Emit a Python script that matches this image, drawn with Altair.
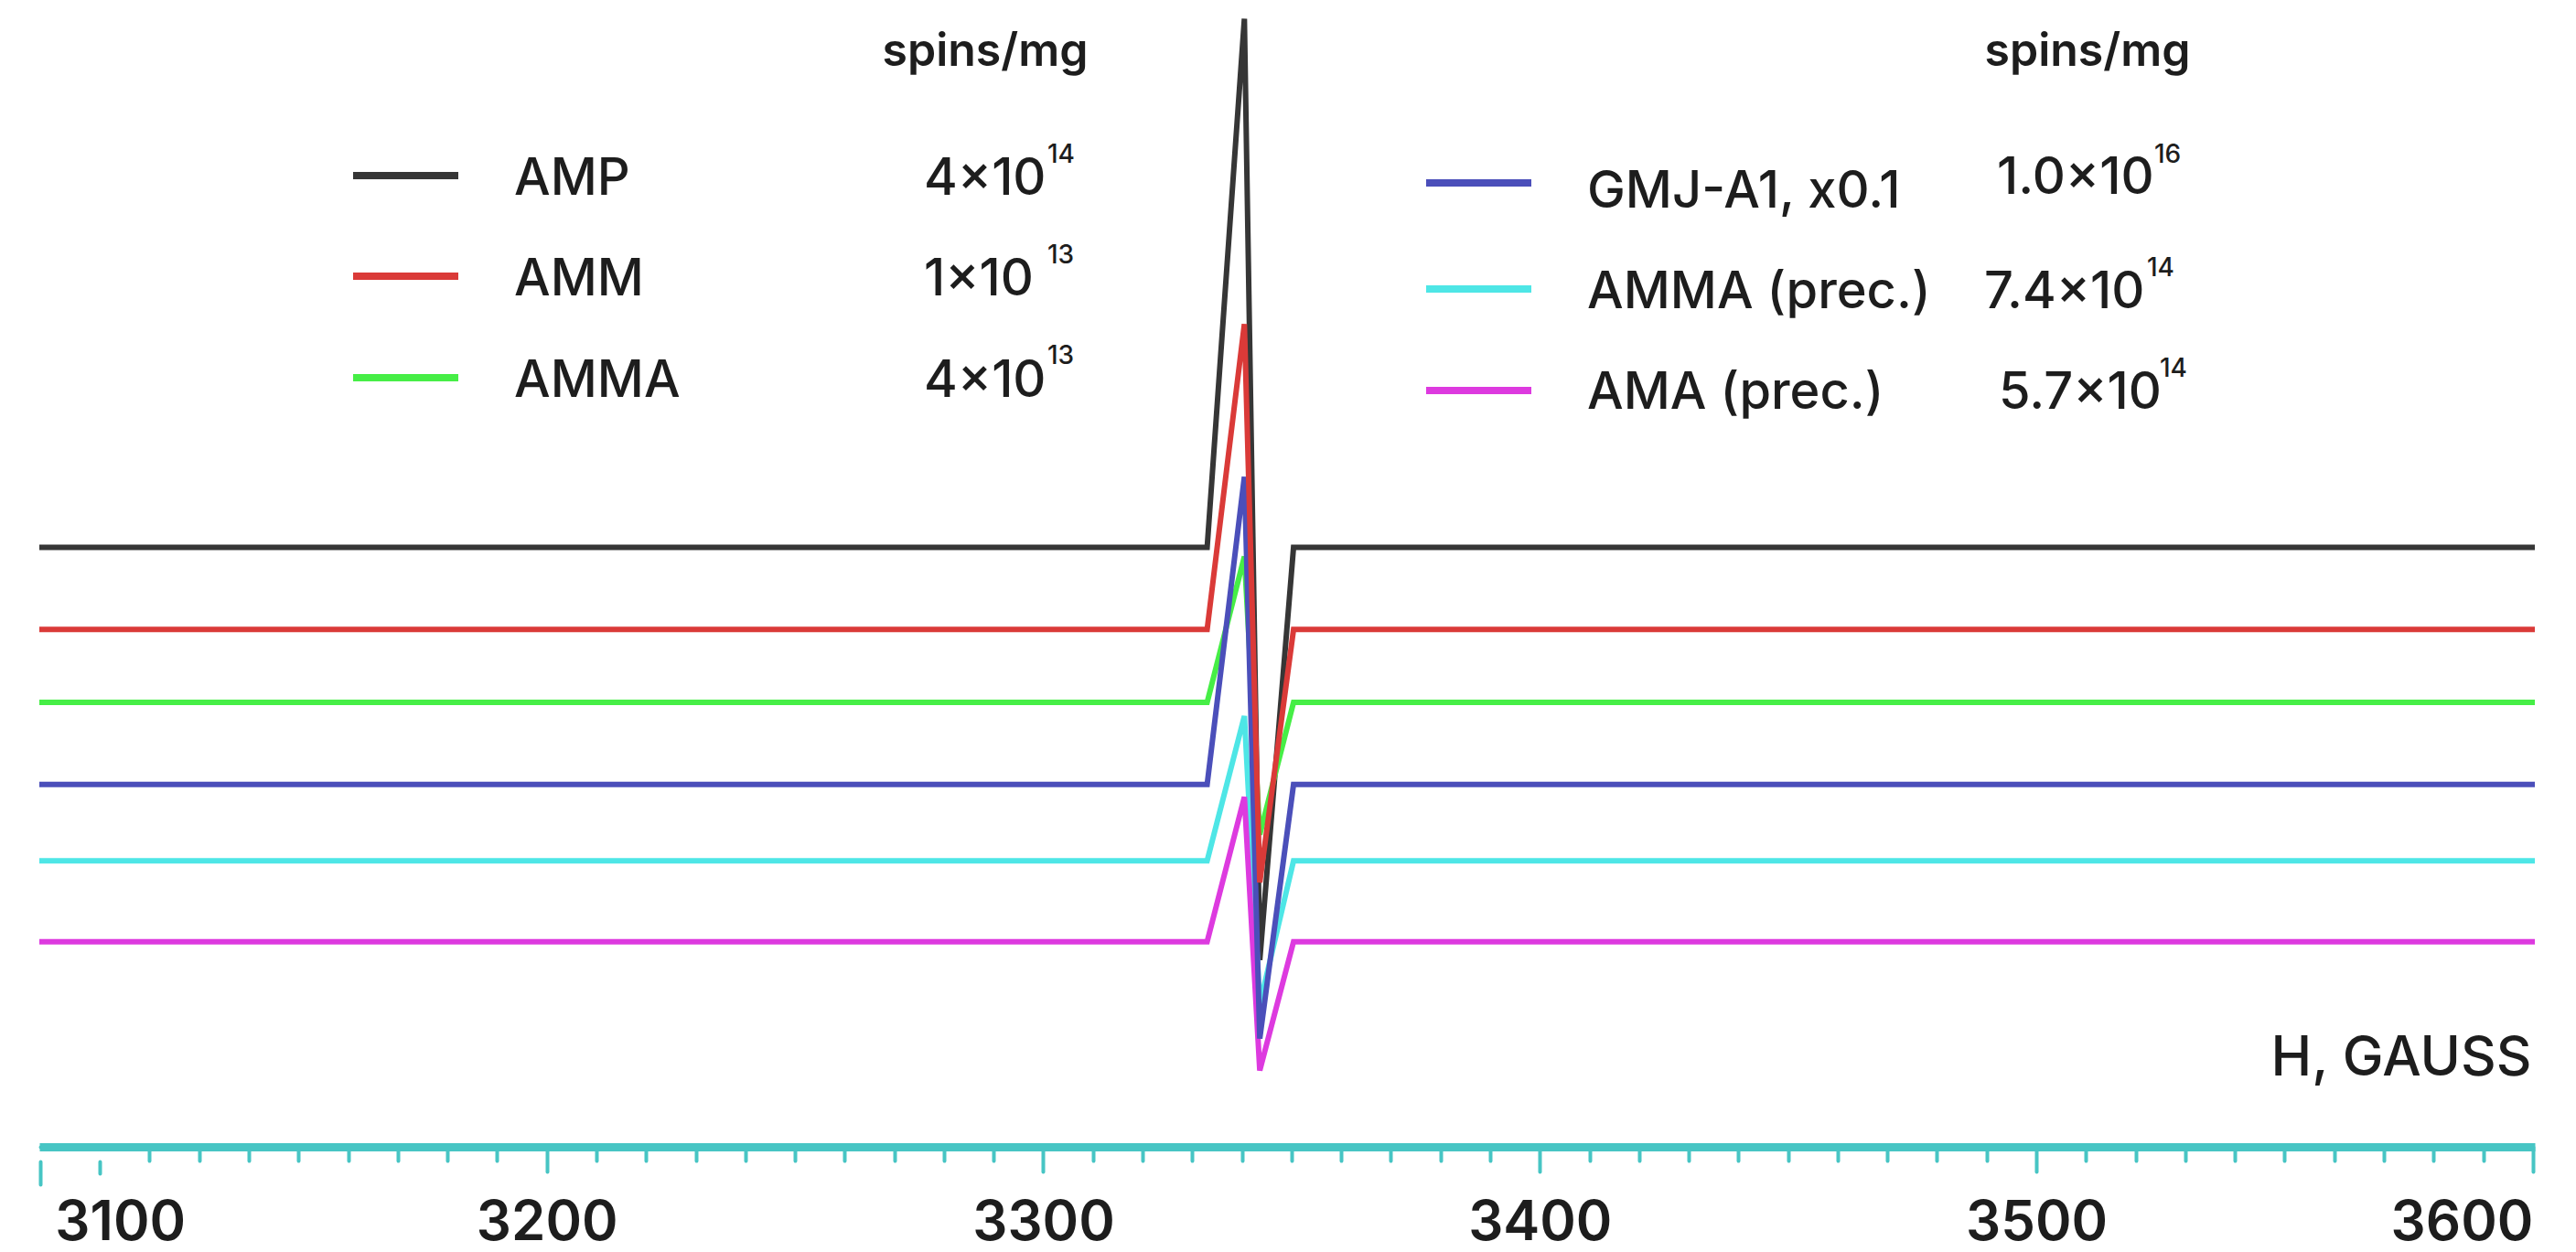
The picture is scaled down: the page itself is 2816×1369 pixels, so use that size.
import altair as alt
import pandas as pd

# ---------------- data ----------------
series = ["AMP", "AMM", "AMMA", "GMJ-A1, x0.1", "AMMA (prec.)", "AMA (prec.)"]
colors = ["#363636", "#DA3A38", "#46EE46", "#4B4FBA", "#4EE6E6", "#DD3ADF"]
mantissas = ["4×10", "1×10", "4×10", "1.0×10", "7.4×10", "5.7×10"]
exponents = ["14", "13", "13", "16", "14", "14"]

# magnetic field (gauss) of the polyline vertices
field_g = [3097.8, 3333.0, 3340.5, 3343.6, 3350.4, 3600.4]
# signal (arbitrary units, offset traces)
amp = [526, 526, 990, 164, 526, 526]
amm = [454, 454, 722, 232, 454, 454]
amma = [390, 390, 518, 274, 390, 390]
gmj = [318, 318, 588, 95, 318, 318]
amma_prec = [251, 251, 378, 125, 251, 251]
ama_prec = [180, 180, 307, 67, 180, 180]
traces = [amp, amm, amma, gmj, amma_prec, ama_prec]

tick_values = [3098] + list(range(3110, 3601, 10))

# ---------------- layout / style ----------------
W, H = 2728, 1246
TEAL = "#47C5C4"
INK = "#1d1d1d"
FONT = "Inter"

left = dict(sw_x=343, sw_x2=458, sw_y=[184, 294, 405], lab_x=519, lab_y=[205, 315, 426],
            val_x=[967, 967, 967], val_y=[205, 315, 426], sup_x=[1102, 1102, 1102], sup_y=[170, 280, 390])
right = dict(sw_x=1516, sw_x2=1631, sw_y=[192, 308, 419], lab_x=1692, lab_y=[219, 329, 439],
             val_x=[2140, 2126, 2142], val_y=[204, 329, 439], sup_x=[2312, 2304, 2318], sup_y=[170, 294, 404])
header_x = [1034, 2239]
header_y = 64

# ---------------- tables ----------------
rows = []
for name, vals in zip(series, traces):
    for i, (g, v) in enumerate(zip(field_g, vals)):
        rows.append(dict(series=name, gauss=g, intensity=v, idx=i))
lines_df = pd.DataFrame(rows)

leg_rows = []
for k, name in enumerate(series):
    lay = left if k < 3 else right
    r = k % 3
    leg_rows.append(dict(series=name, mant=mantissas[k], exp=exponents[k],
                         sw_x=lay["sw_x"], sw_x2=lay["sw_x2"], sw_y=lay["sw_y"][r],
                         lab_x=lay["lab_x"], lab_y=lay["lab_y"][r],
                         val_x=lay["val_x"][r], val_y=lay["val_y"][r],
                         sup_x=lay["sup_x"][r], sup_y=lay["sup_y"][r]))
leg_df = pd.DataFrame(leg_rows)
hdr_df = pd.DataFrame({"text": ["spins/mg", "spins/mg"], "hx": header_x, "hy": [header_y, header_y]})

color_scale = alt.Scale(domain=series, range=colors)

x_axis = alt.Axis(
    values=tick_values,
    title="H, GAUSS",
    titleFont=FONT, titleFontSize=60, titleFontWeight=500, titleColor=INK,
    titleX=2724, titleY=-79, titleAlign="right", titleBaseline="alphabetic", titleAngle=0,
    domainColor=TEAL, domainWidth=9, domainCap="butt",
    tickColor=TEAL, tickWidth=4, tickCap="round",
    tickSize={"condition": [
        {"test": "datum.value === 3098", "value": 43},
        {"test": "datum.value === 3110", "value": 29},
        {"test": "datum.value % 100 === 0", "value": 27}], "value": 15},
    tickDash={"condition": [
        {"test": "datum.value === 3098", "value": [0.01, 16, 25, 100]},
        {"test": "datum.value === 3110", "value": [0.01, 16, 13, 100]}], "value": [100, 0]},
    labelExpr="datum.value === 3110 ? '3100' : (datum.value % 100 === 0 ? format(datum.value, 'd') : '')",
    labelFont=FONT, labelFontSize=60, labelFontWeight=600, labelColor=INK,
    labelBaseline="alphabetic",
    labelAlign={"condition": {"test": "datum.value === 3600", "value": "right"}, "value": "center"},
    labelOffset={"condition": {"test": "datum.value === 3110", "value": 22}, "value": 0},
    labelPadding={"condition": {"test": "datum.value === 3110", "value": 72}, "value": 74},
    labelFlush=False, labelOverlap=False, labelBound=False,
    grid=False,
)
x_enc = alt.X("gauss:Q", scale=alt.Scale(domain=[3097.8, 3600.4], nice=False, zero=False), axis=x_axis)
y_enc = alt.Y("intensity:Q", scale=alt.Scale(domain=[0, 1000], nice=False, zero=False), axis=None)

draw_order = ["AMP", "AMMA", "AMMA (prec.)", "AMA (prec.)", "GMJ-A1, x0.1", "AMM"]
line_layers = []
for s in draw_order:
    line_layers.append(
        alt.Chart(lines_df).transform_filter(alt.datum.series == s)
        .mark_line(strokeWidth=6)
        .encode(x=x_enc, y=y_enc, order=alt.Order("idx:Q"),
                color=alt.Color("series:N", scale=color_scale, legend=None))
    )
lines = alt.layer(*line_layers)

px = lambda f: alt.X(f, type="quantitative", scale=None, axis=None)
py = lambda f: alt.Y(f, type="quantitative", scale=None, axis=None)

swatches = alt.Chart(leg_df).mark_rule(strokeWidth=8).encode(
    x=px("sw_x"), x2="sw_x2", y=py("sw_y"),
    color=alt.Color("series:N", scale=color_scale, legend=None))
labels = alt.Chart(leg_df).mark_text(font=FONT, fontSize=56, fontWeight=500, color=INK,
                                     align="left", baseline="alphabetic").encode(
    x=px("lab_x"), y=py("lab_y"), text="series:N")
values = alt.Chart(leg_df).mark_text(font=FONT, fontSize=56, fontWeight=500, color=INK,
                                     align="left", baseline="alphabetic").encode(
    x=px("val_x"), y=py("val_y"), text="mant:N")
sups = alt.Chart(leg_df).mark_text(font=FONT, fontSize=28, fontWeight=500, color=INK,
                                   align="left", baseline="alphabetic").encode(
    x=px("sup_x"), y=py("sup_y"), text="exp:N")
headers = alt.Chart(hdr_df).mark_text(font=FONT, fontSize=50, fontWeight=600, color=INK,
                                      align="center", baseline="alphabetic").encode(
    x=px("hx"), y=py("hy"), text="text:N")

annots = alt.layer(swatches, labels, values, sups, headers)

chart = (
    alt.layer(lines, annots)
    .resolve_scale(x="independent", y="independent")
    .properties(width=W, height=H,
                padding={"left": 35, "top": 0, "right": 30, "bottom": 115},
                autosize=alt.AutoSizeParams(type="none"),
                background="white")
    .configure_view(stroke=None)
)

chart.save("out.html", embed_options={"renderer": "svg", "actions": False})
